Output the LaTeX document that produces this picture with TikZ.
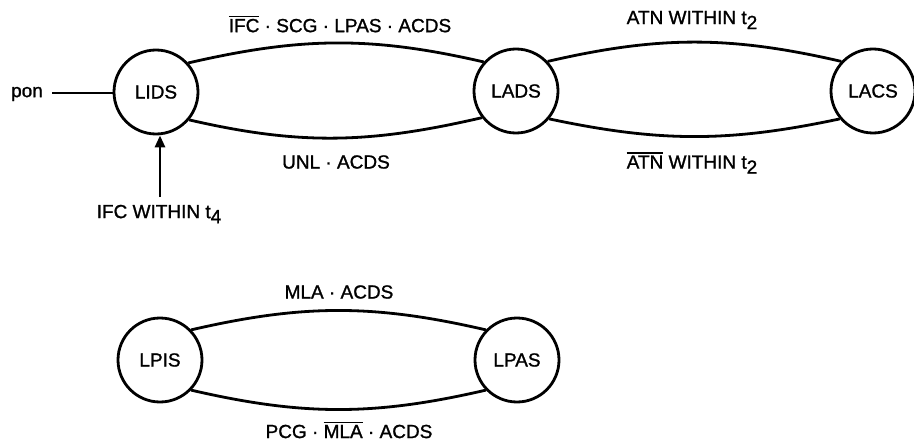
\documentclass[tikz,border=0pt]{standalone}
\usepackage{fontspec}
\setmainfont[FakeBold=1.2]{Liberation Sans}
\usetikzlibrary{arrows.meta}
\newcommand{\ovl}[1]{\leavevmode\vbox{\hrule height 1.6pt\kern 1.6pt\hbox{#1}}}
\newcommand{\subs}[1]{\raisebox{-0.5ex}{#1}}
\begin{document}
\begin{tikzpicture}[x=1pt,y=-1pt,
  state/.style={circle,draw,line width=2.8pt,minimum size=84pt,inner sep=0pt},
  lbl/.style={inner sep=0pt},
  arc/.style={line width=2.8pt},
  every node/.style={font=\fontsize{19}{22}\selectfont}]
\useasboundingbox (0,0) rectangle (914,444);
\fill[white] (0,0) rectangle (914,444);
% states
\node[state] (LIDS) at (156,92) {LIDS};
\node[state] (LADS) at (516,91) {LADS};
\node[state] (LACS) at (873,91) {LACS};
\node[state] (LPIS) at (160,360) {LPIS};
\node[state] (LPAS) at (517,360) {LPAS};
% inputs
\node[lbl] (pon) at (27,94) {pon};
\coordinate (ponend) at (52,93);
\draw[arc] (ponend) -- (LIDS.west |- ponend);
\node[lbl] (ifc) at (159,214) {IFC WITHIN t\subs{4}};
\coordinate (ifctop) at (160,197);
\draw[arc,-{Triangle[length=12pt,width=10pt]}] (ifctop) -- (LIDS.south -| ifctop);
% arcs top row
\draw[arc] (LIDS.42) to[out=13,in=167] (LADS.138);
\draw[arc] (LIDS.-40) to[out=-13,in=-167] (LADS.-142);
\draw[arc] (LADS.43) to[out=13,in=167] (LACS.137);
\draw[arc] (LADS.-40) to[out=-12,in=-168] (LACS.-140);
% arcs bottom row
\draw[arc] (LPIS.44) to[out=13,in=167] (LPAS.136);
\draw[arc] (LPIS.-44) to[out=-13,in=-167] (LPAS.-136);
% labels
\node[lbl] (l1) at (340,24) {\ovl{IFC} · SCG · LPAS · ACDS};
\node[lbl] (l2) at (336,162) {UNL · ACDS};
\node[lbl] (l3) at (692,20) {ATN WITHIN t\subs{2}};
\node[lbl] (l4) at (692,163) {\ovl{ATN} WITHIN t\subs{2}};
\node[lbl] (l5) at (339,292) {MLA · ACDS};
\node[lbl] (l6) at (349,430) {PCG · \ovl{MLA} · ACDS};
\end{tikzpicture}
\end{document}
